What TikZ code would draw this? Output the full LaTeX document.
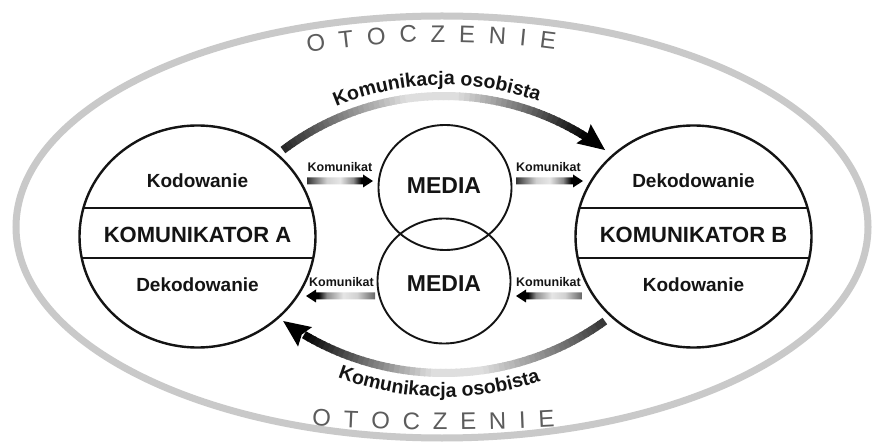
\documentclass[tikz,border=0pt]{standalone}
\usepackage{fontspec}
\setmainfont{Liberation Sans}
\usetikzlibrary{calc,arrows.meta,decorations.text,shapes.geometric}

\definecolor{ringgray}{gray}{0.79}
\definecolor{envtext}{gray}{0.36}
\definecolor{ink}{gray}{0.08}
\definecolor{sA}{gray}{0.20}
\definecolor{sB}{gray}{0.82}
\definecolor{sC}{gray}{0.90}
\definecolor{sD}{gray}{0.55}
\definecolor{sE}{gray}{0.40}

% gradient fill of the small message arrows (head side is black)
\pgfdeclarehorizontalshading{msgright}{100bp}{color(0bp)=(sA); color(25bp)=(sA); color(40bp)=(sB); color(50bp)=(sC); color(60bp)=(sD); color(66bp)=(black); color(100bp)=(black)}
\pgfdeclarehorizontalshading{msgleft}{100bp}{color(0bp)=(black); color(34bp)=(black); color(40bp)=(sD); color(52bp)=(sC); color(62bp)=(sB); color(75bp)=(sE); color(100bp)=(sE)}

% arrow with a thick shaded shaft: #1 shading, #2 tail, #3 tip
\newcommand\msgarrow[3]{%
  \shade[shading=#1] let \p1=(#2), \p2=(#3), \n2={\x2-10*sign(\x2-\x1)} in
    ({\x1},{\y1+3.5pt}) -- ({\n2},{\y1+3.5pt}) -- ({\n2},{\y1+6.5pt}) -- ({\x2},{\y1})
    -- ({\n2},{\y1-6.5pt}) -- ({\n2},{\y1-3.5pt}) -- ({\x1},{\y1-3.5pt}) -- cycle;}

\tikzset{
  ring/.style={draw=ringgray, line width=7pt},
  party/.style={ellipse, draw=ink, line width=2.4pt, minimum width=236pt, minimum height=222pt, inner sep=0pt, outer sep=0pt},
  medium/.style={ellipse, draw=ink, line width=1.9pt, minimum width=133pt, minimum height=125pt, inner sep=0pt, outer sep=0pt},
  band/.style={draw=ink, line width=1.8pt},
  lbl/.style={font=\bfseries\fontsize{19}{19}\selectfont, text=ink, anchor=base, inner sep=0pt},
  title/.style={lbl, font=\bfseries\fontsize{22}{22}\selectfont},
  medlbl/.style={lbl, font=\bfseries\fontsize{23}{23}\selectfont},
  msglbl/.style={lbl, font=\bfseries\fontsize{12.5}{12.5}\selectfont},
}

\begin{document}
\begin{tikzpicture}[x=1pt,y=1pt]
\useasboundingbox (0,0) rectangle (875,442);
\fill[white] (0,0) rectangle (875,442);

% surroundings
\coordinate (env) at (442,215);
\draw[ring] (env) ellipse [x radius=426, y radius=211];
\path[decorate, decoration={text along path, text align=fit to path, text color=envtext,
    text={|\fontsize{24}{24}\selectfont|OTOCZENIE}}]
  ($(env)+({400*cos(109.6)},{185*sin(109.6)})$) arc[start angle=109.6, end angle=73.6, x radius=400, y radius=185];
\path[decorate, decoration={text along path, text align=fit to path, text color=envtext,
    text={|\fontsize{24}{24}\selectfont|OTOCZENIE}}]
  ($(env)+({650*cos(258.46)},{203*sin(258.46)})$) arc[start angle=258.46, end angle=280.0, x radius=650, y radius=203];

% the two communicators
\node[party] (A) at (197.5,205.5) {};
\node[party] (B) at (693.5,205.5) {};
\begin{scope}
  \clip (A.center) ellipse [x radius=118, y radius=111];
  \draw[band] ($(A.west)+(0,28.5)$) -- ($(A.east)+(0,28.5)$);
  \draw[band] ($(A.west)+(0,-21.5)$) -- ($(A.east)+(0,-21.5)$);
\end{scope}
\begin{scope}
  \clip (B.center) ellipse [x radius=118, y radius=111];
  \draw[band] ($(B.west)+(0,28.5)$) -- ($(B.east)+(0,28.5)$);
  \draw[band] ($(B.west)+(0,-21.5)$) -- ($(B.east)+(0,-21.5)$);
\end{scope}
\node[lbl]   (A1) at (197.5,254) {Kodowanie};
\node[title] (A2) at (197.5,199) {KOMUNIKATOR A};
\node[lbl]   (A3) at (197.5,150) {Dekodowanie};
\node[lbl]   (B1) at (693.5,254) {Dekodowanie};
\node[title] (B2) at (693.5,199) {KOMUNIKATOR B};
\node[lbl]   (B3) at (693.5,150) {Kodowanie};

% media
\node[medium] (M1) at (445,254.5) {};
\node[medium] (M2) at (444,161) {};
\node[medlbl] (M1t) at (444,248) {MEDIA};
\node[medlbl] (M2t) at (444,150) {MEDIA};

% messages through the media
\coordinate (m1s) at (307,261); \coordinate (m1e) at (373,261);
\coordinate (m2s) at (516,261); \coordinate (m2e) at (583,261);
\coordinate (m3s) at (375,146); \coordinate (m3e) at (306,146);
\coordinate (m4s) at (582,146); \coordinate (m4e) at (516,146);
\msgarrow{msgright}{m1s}{m1e}
\msgarrow{msgright}{m2s}{m2e}
\msgarrow{msgleft}{m3s}{m3e}
\msgarrow{msgleft}{m4s}{m4e}
\node[msglbl] (k1) at (340,270) {Komunikat};
\node[msglbl] (k2) at (548.5,270) {Komunikat};
\node[msglbl] (k3) at (341.5,155) {Komunikat};
\node[msglbl] (k4) at (548.5,155) {Komunikat};

% personal communication, A -> B over the top
\coordinate (ctop) at (444,79);
\foreach \i in {0,...,59} {
  \pgfmathsetmacro\aa{127.1+(58-127.1)*\i/60}
  \pgfmathsetmacro\ab{127.1+(58-127.1)*(\i+1)/60-0.3}
  \pgfmathsetmacro\tt{(\i+0.5)/60}
  \pgfmathsetmacro\pc{int(\tt<0.5 ? 13+73*max(0,(1-2*\tt)-0.15)/0.85 : 13+87*max(0,(2*\tt-1)-0.15)/0.85)}
  \draw[line width=8pt, black!\pc] ($(ctop)+(\aa:267)$) arc[start angle=\aa, end angle=\ab, radius=267];
}
\coordinate (t1) at ($(ctop)+(52.9:267)$);
\fill[black] (t1) -- ($(t1)+(142.9:27)+(52.9:12)$) -- ($(t1)+(142.9:23)$) -- ($(t1)+(142.9:27)+(232.9:12)$) -- cycle;
\path[decorate, decoration={text along path, text align=center, text color=ink,
    text={|\bfseries\fontsize{19.5}{19.5}\selectfont|Komunikacja osobista}}]
  ($(ctop)+(136.5:278)$) arc[start angle=136.5, end angle=46.5, radius=278];

% personal communication, B -> A under the bottom
\coordinate (cbot) at (444,344);
\foreach \i in {0,...,59} {
  \pgfmathsetmacro\aa{-54.2+(-120.3+54.2)*\i/60}
  \pgfmathsetmacro\ab{-54.2+(-120.3+54.2)*(\i+1)/60-0.3}
  \pgfmathsetmacro\tt{(\i+0.5)/60}
  \pgfmathsetmacro\pc{int(\tt<0.5 ? 13+67*max(0,(1-2*\tt)-0.15)/0.85 : 13+87*max(0,(2*\tt-1)-0.15)/0.85)}
  \draw[line width=8pt, black!\pc] ($(cbot)+(\aa:275)$) arc[start angle=\aa, end angle=\ab, radius=275];
}
\coordinate (t2) at ($(cbot)+(-125.8:275)$);
\fill[black] (t2) -- ($(t2)+(-35.8:27)+(54.2:12)$) -- ($(t2)+(-35.8:23)$) -- ($(t2)+(-35.8:27)+(234.2:12)$) -- cycle;
\path[decorate, decoration={text along path, text align=center, text color=ink,
    text={|\bfseries\fontsize{19.5}{19.5}\selectfont|Komunikacja osobista}}]
  ($(cbot)+(-121:299)$) arc[start angle=-121, end angle=-61, radius=299];
\end{tikzpicture}
\end{document}
